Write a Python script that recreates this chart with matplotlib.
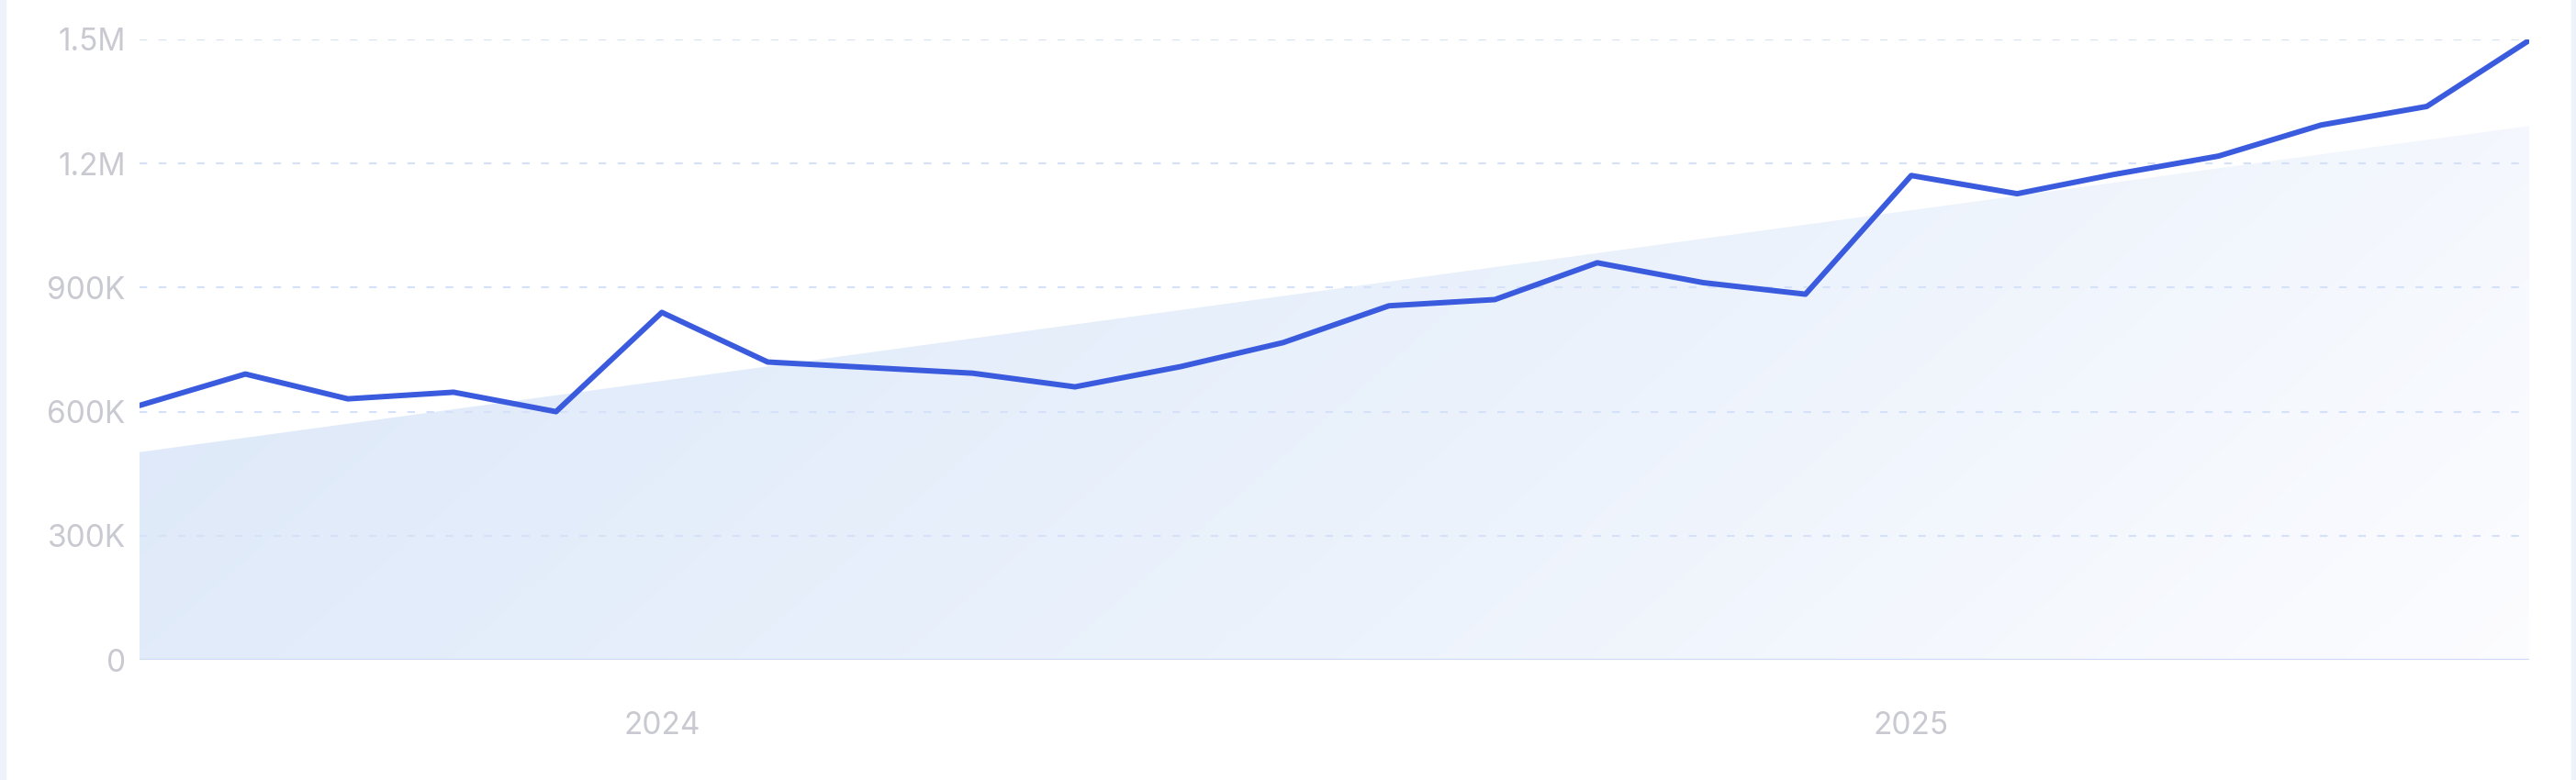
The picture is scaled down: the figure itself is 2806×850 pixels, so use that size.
import numpy as np
import matplotlib.pyplot as plt
import matplotlib.dates as mdates
from matplotlib.colors import LinearSegmentedColormap
from matplotlib.patches import Rectangle
from datetime import date

# monthly values, Aug 2023 .. Jul 2025
months = [date(2023, m, 1) for m in range(8, 13)] + \
         [date(2024, m, 1) for m in range(1, 13)] + \
         [date(2025, m, 1) for m in range(1, 8)]
values = [615000, 691000, 631000, 647000, 600000,
          840000, 720000, 707000, 693000, 660000, 709000, 767000, 856000,
          871000, 960000, 912000, 884000,
          1171000, 1127000, 1173000, 1218000, 1293000, 1338000, 1498000]

# trend band (start / end values)
trend_dates = [months[0], months[-1]]
trend_values = [502000, 1291000]

y_ticks = [0, 300000, 600000, 900000, 1200000, 1500000]
y_labels = ['0', '300K', '600K', '900K', '1.2M', '1.5M']
x_ticks = [date(2024, 1, 1), date(2025, 1, 1)]
x_labels = ['2024', '2025']

plt.rcParams['font.family'] = ['Inter', 'DejaVu Sans']

W, H = 2806, 850
fig = plt.figure(figsize=(W / 100, H / 100), dpi=100)
fig.patch.set_facecolor('white')

# light side strips of the card
fig.patches.append(Rectangle((0, 0), 6 / W, 1, transform=fig.transFigure, color='#eef2fa', zorder=0))
fig.patches.append(Rectangle((1 - 5 / W, 0), 5 / W, 1, transform=fig.transFigure, color='#eef2fa', zorder=0))

left, right, top, bottom = 152, 2755, 43, 719
ax = fig.add_axes([left / W, 1 - bottom / H, (right - left) / W, (bottom - top) / H])
ax.set_facecolor('none')

xd = mdates.date2num(months)
td = mdates.date2num(trend_dates)
ax.set_xlim(xd[0], xd[-1])
ax.set_ylim(0, 1500000)

# gradient filled trend area
cmap = LinearSegmentedColormap.from_list('fade', ['#dee9f9', '#ebf2fc', '#fdfdff'])
gx, gy = np.meshgrid(np.linspace(0, 1, 300), np.linspace(0, 1, 100))
grad = np.clip(gx * 0.85 - gy * 0.25 + 0.12, 0, 1)
im = ax.imshow(grad, cmap=cmap, origin='lower', aspect='auto', vmin=0, vmax=1,
               extent=[xd[0], xd[-1], 0, 1500000], zorder=1, interpolation='bilinear')
poly = ax.fill_between(td, 0, trend_values, color='none', lw=0)
clip = poly.get_paths()[0]
im.set_clip_path(clip, transform=ax.transData)

# grid
for v in y_ticks[1:]:
    ax.axhline(v, color='#d5e1f8', lw=1.5, ls=(0, (4, 6)), zorder=2)
ax.axhline(0, color='#cddcf5', lw=1.6, zorder=2)

ax.plot(xd, values, color='#3a5bdd', lw=4.3, solid_joinstyle='round',
        solid_capstyle='round', zorder=3)

for s in ax.spines.values():
    s.set_visible(False)

ax.set_yticks(y_ticks)
ax.set_yticklabels(y_labels)
ax.set_xticks(mdates.date2num(x_ticks))
ax.set_xticklabels(x_labels)
ax.tick_params(axis='both', length=0, labelcolor='#c9c9d1', labelsize=24)
ax.tick_params(axis='y', pad=11)
ax.tick_params(axis='x', pad=40)

fig.savefig('out.png', dpi=100, facecolor='white')
